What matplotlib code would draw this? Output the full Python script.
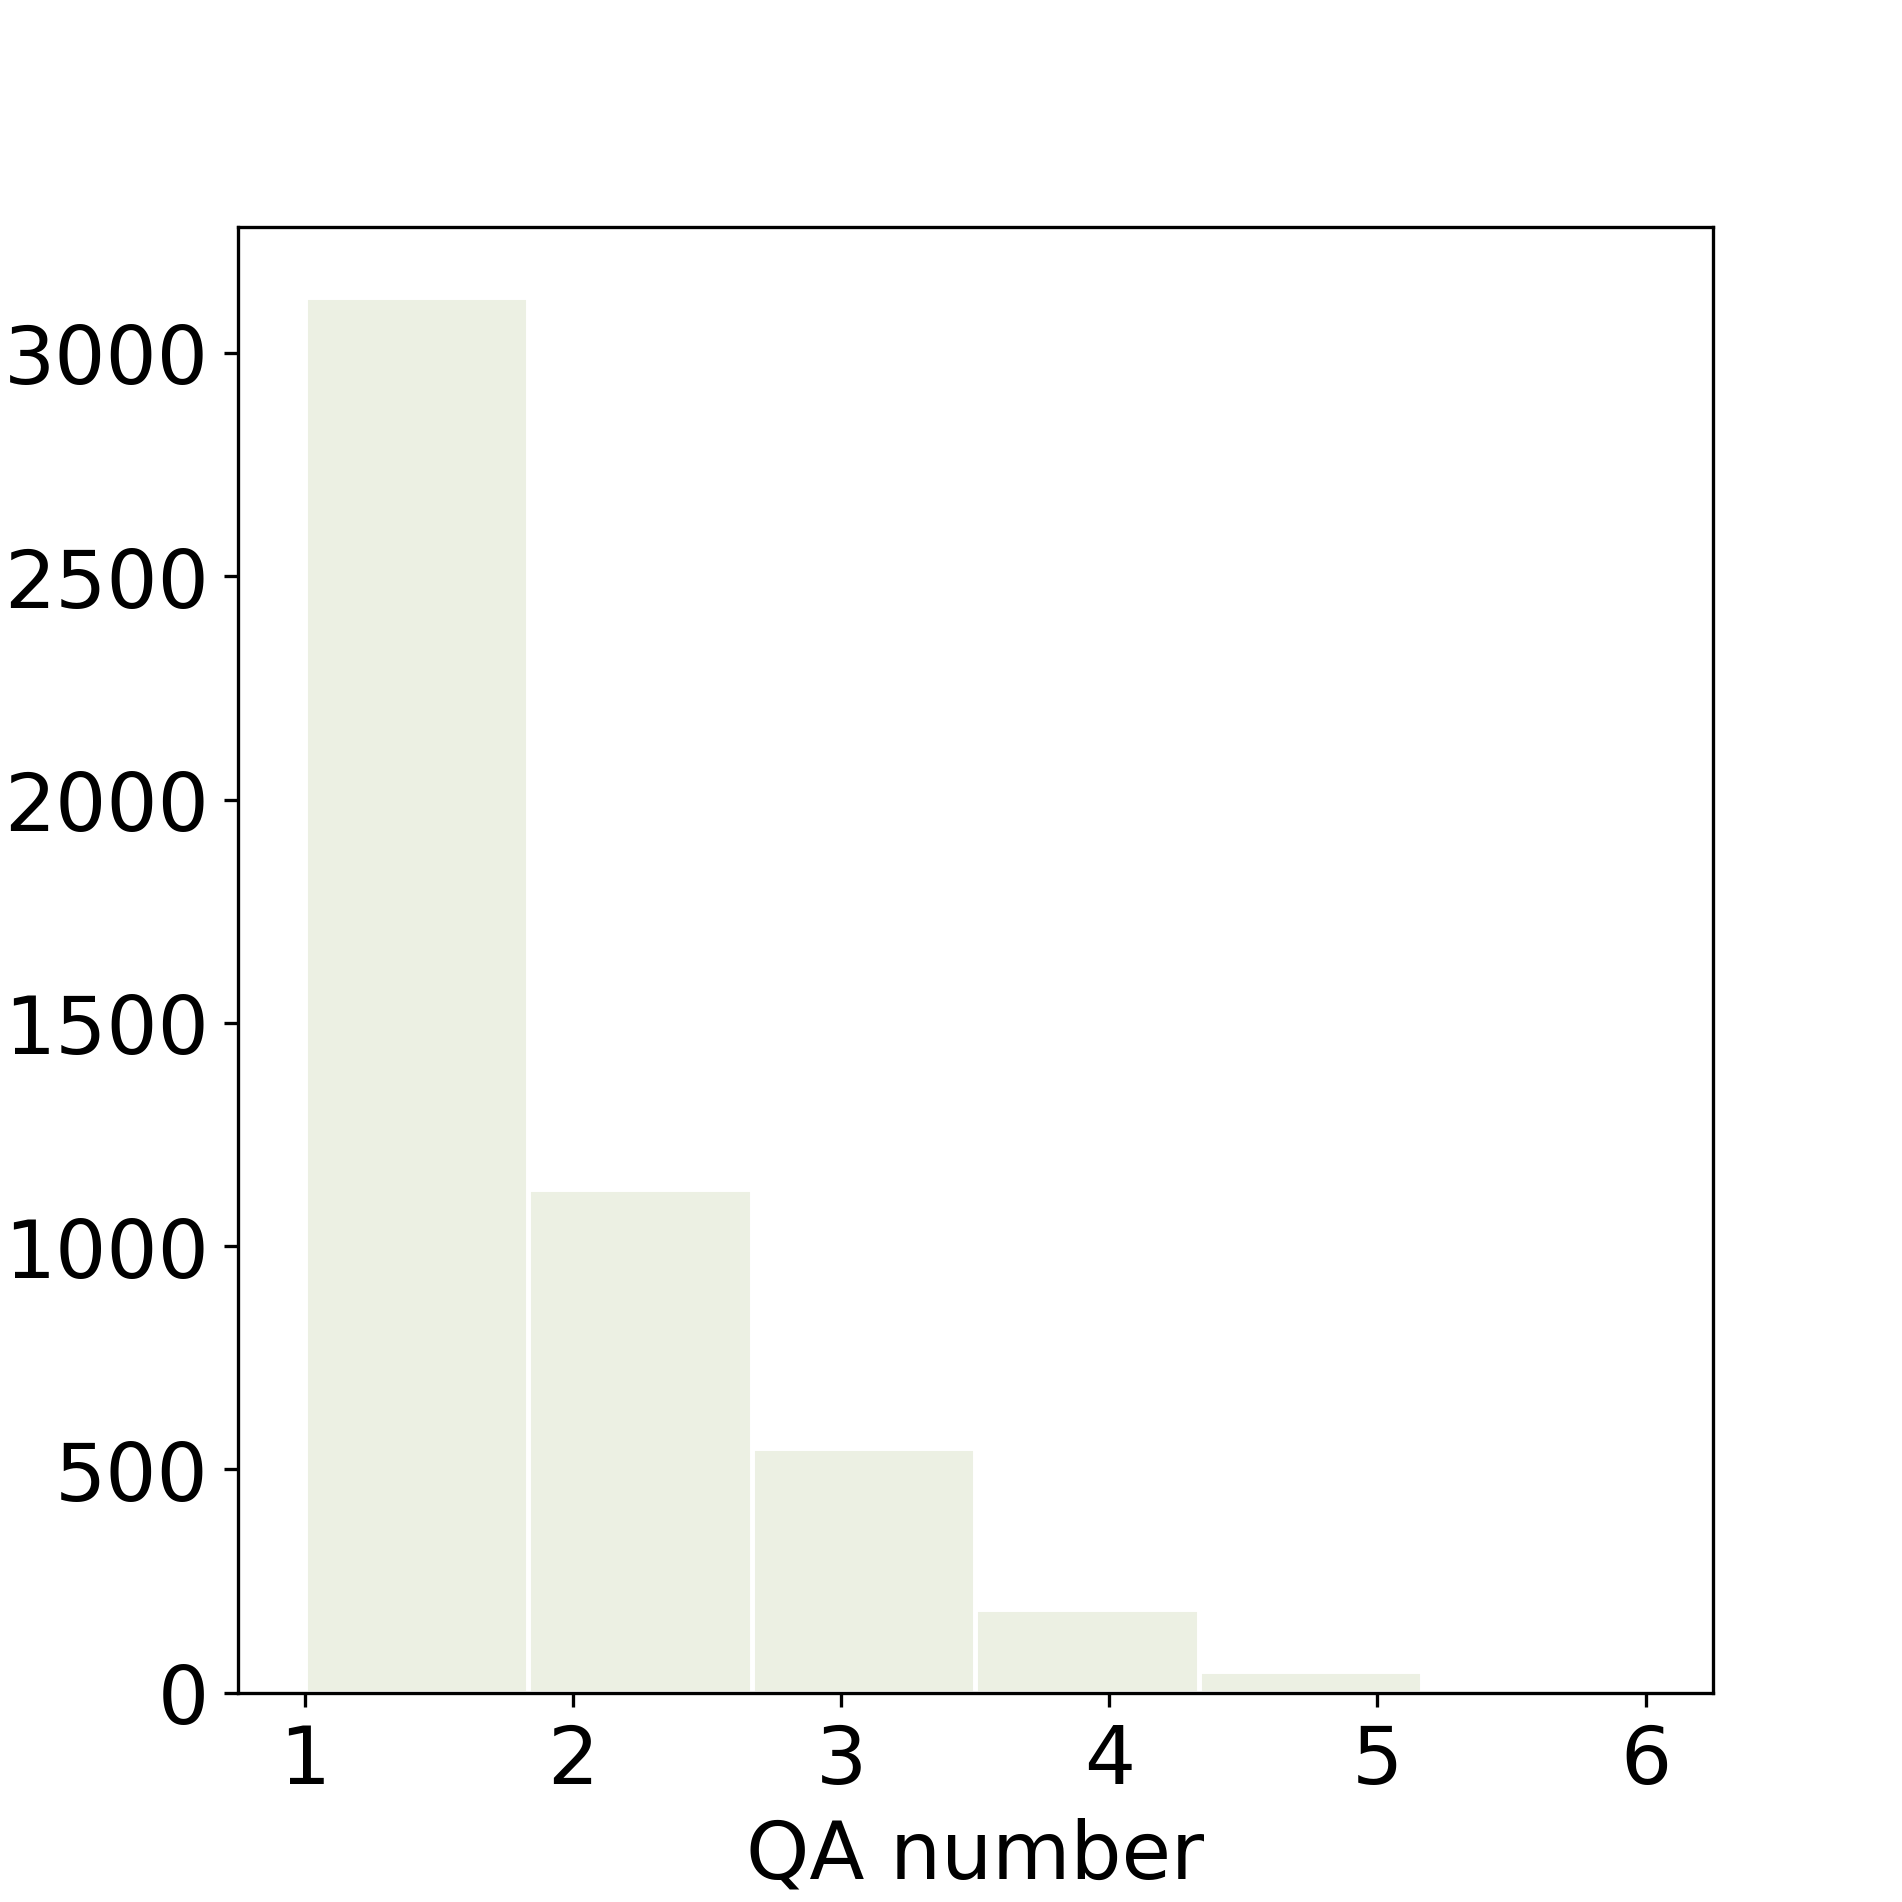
import matplotlib
matplotlib.use("Agg")
import matplotlib.pyplot as plt

qa_numbers = [1, 2, 3, 4, 5, 6]
counts = [3125, 1128, 547, 187, 48, 0]

fig, ax = plt.subplots(figsize=(6.4, 6.4), dpi=297.34)
ax.hist(qa_numbers, bins=6, weights=counts, color="#ECF0E3", edgecolor="white", linewidth=1.2)
ax.set_xlabel("QA number", fontsize=19.5)
ax.tick_params(labelsize=19.5)
ax.set_xticks([1, 2, 3, 4, 5, 6])
fig.savefig("out.png", dpi=297.34)
